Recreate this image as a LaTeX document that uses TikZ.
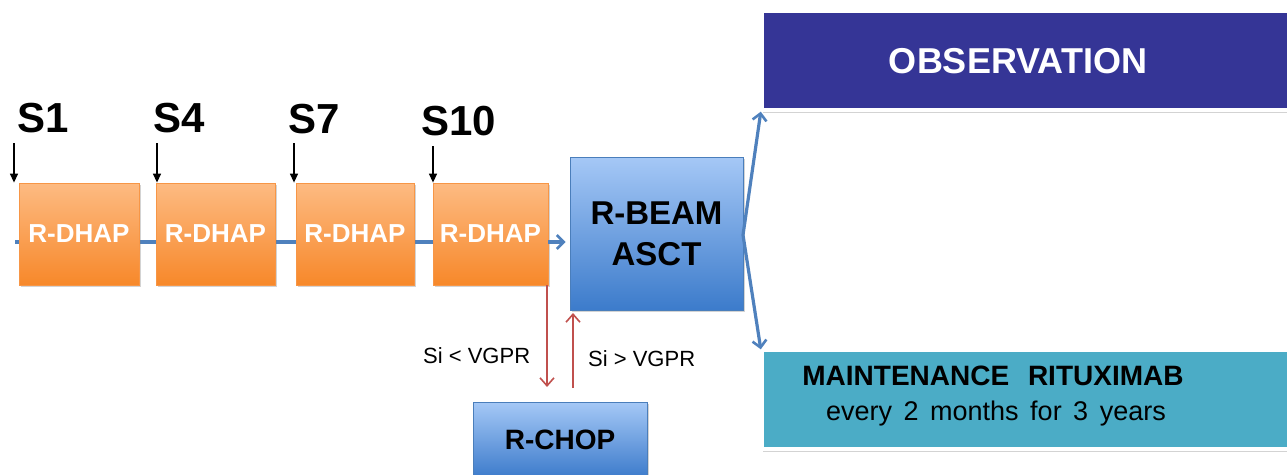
\documentclass[tikz,border=0pt]{standalone}
\usepackage{fontspec}
\setmainfont{Liberation Sans}
\usetikzlibrary{arrows.meta,shadows,backgrounds}
\definecolor{orTop}{HTML}{FDBB82}
\definecolor{orBot}{HTML}{F7882A}
\definecolor{orEdge}{HTML}{F79646}
\definecolor{blTop}{HTML}{A5C8F6}
\definecolor{blBot}{HTML}{3C7BCB}
\definecolor{blEdge}{HTML}{4A7EBB}
\definecolor{lineBlue}{HTML}{4F81BD}
\definecolor{redArr}{HTML}{C0504D}
\definecolor{obsBlue}{HTML}{353596}
\definecolor{mntBlue}{HTML}{4BACC6}
\begin{document}
\begin{tikzpicture}[x=1pt,y=-1pt,
  shad/.style={drop shadow={shadow xshift=1.5pt,shadow yshift=-1.5pt,opacity=0.35}},
  dhap/.style={shad,draw=orEdge,line width=0.8pt,top color=orTop,bottom color=orBot,
    minimum height=102pt,inner sep=0pt,text=white,font=\fontsize{26}{30}\selectfont\bfseries},
  bluebox/.style={shad,draw=blEdge,line width=0.8pt,top color=blTop,bottom color=blBot,
    inner sep=0pt,align=center,text=black},
  slabel/.style={anchor=base west,inner sep=0pt,font=\fontsize{42}{46}\selectfont\bfseries},
  barrow/.style={-{Triangle[length=9pt,width=8pt]},line width=1.4pt,black},
  blarrow/.style={-{Straight Barb[length=7pt,width=14pt,line width=2.6pt]},line width=3.2pt,lineBlue},
  rarrow/.style={-{Straight Barb[length=8pt,width=14pt,line width=1.6pt]},line width=1.8pt,redArr},
  vlabel/.style={anchor=base west,inner sep=0pt,font=\fontsize{22}{26}\selectfont},
  outbox/.style={shad,fill=white,inner sep=0pt},
]
\useasboundingbox (0,0) rectangle (1287,474);

% R-DHAP boxes
\node[dhap,minimum width=120pt] (d1) at (79,234) {R-DHAP};
\node[dhap,minimum width=119pt] (d2) at (215.5,234) {R-DHAP};
\node[dhap,minimum width=118pt] (d3) at (355,234) {R-DHAP};
\node[dhap,minimum width=115pt] (d4) at (490.5,234) {R-DHAP};

% timeline behind the boxes
\coordinate (start) at (15,242);
\begin{scope}[on background layer]
\draw[lineBlue,line width=3.2pt] (start) -- (start -| d4.west);
\end{scope}

% session labels and arrows
\node[slabel] (s1) at (17,132) {S1};
\node[slabel] (s4) at (153,132) {S4};
\node[slabel] (s7) at (288,133) {S7};
\node[slabel] (s10) at (421,135) {S10};
\coordinate (a1) at (14,143);
\coordinate (a4) at (157,143);
\coordinate (a7) at (294,143);
\coordinate (a10) at (433,146);
\draw[barrow] (a1) -- (a1 |- d1.north);
\draw[barrow] (a4) -- (a4 |- d2.north);
\draw[barrow] (a7) -- (a7 |- d3.north);
\draw[barrow] (a10) -- (a10 |- d4.north);

% R-BEAM ASCT
\node[bluebox,minimum width=173pt,minimum height=153pt,
  font=\fontsize{33}{41}\selectfont\bfseries] (beam) at (656.5,233.5) {R-BEAM\\ASCT};
\draw[blarrow,shorten >=4pt] (d4.east |- start) -- (beam.west |- start);

% R-CHOP
\node[bluebox,minimum width=174pt,minimum height=76pt,
  font=\fontsize{28}{32}\selectfont\bfseries] (chop) at (560,440) {R-CHOP};

% red arrows
\coordinate (rd) at (547,285);
\coordinate (ru) at (573,388);
\coordinate (rdEnd) at (547,387);
\coordinate (ruEnd) at (573,313);
\draw[rarrow] (rd) -- (rdEnd);
\draw[rarrow] (ru) -- (ruEnd);
\node[vlabel] (lt) at (423,363) {Si < VGPR};
\node[vlabel] (gt) at (588,366) {Si > VGPR};

% outcome boxes
\node[outbox,minimum width=532pt,minimum height=101pt] (obsout) at (1027,61) {};
\node[fill=obsBlue,minimum width=528pt,minimum height=95pt,inner sep=0pt] (obs) at (1028,60.5) {};
\node[text=white,font=\fontsize{36}{40}\selectfont\bfseries,inner sep=0pt] (obsT) at (1018,61) {OBSERVATION};

\node[outbox,minimum width=532pt,minimum height=101pt] (mntout) at (1027,400) {};
\node[fill=mntBlue,minimum width=528pt,minimum height=95pt,inner sep=0pt] (mnt) at (1028,399.5) {};
\node[anchor=base,inner sep=0pt,font=\fontsize{28}{30}\selectfont\bfseries] (m1) at (993,385) {MAINTENANCE\hspace{11pt} RITUXIMAB};
\node[anchor=base,inner sep=0pt,font=\fontsize{27}{30}\selectfont] (m2) at (996,420) {every\hspace{4pt} 2\hspace{4pt} months\hspace{4pt} for\hspace{4pt} 3\hspace{4pt} years};

% arrows to outcomes
\coordinate (bo) at (743,235);
\draw[blarrow] (bo) -- (obsout.south west);
\draw[blarrow] (bo) -- (mntout.north west);
\end{tikzpicture}
\end{document}
